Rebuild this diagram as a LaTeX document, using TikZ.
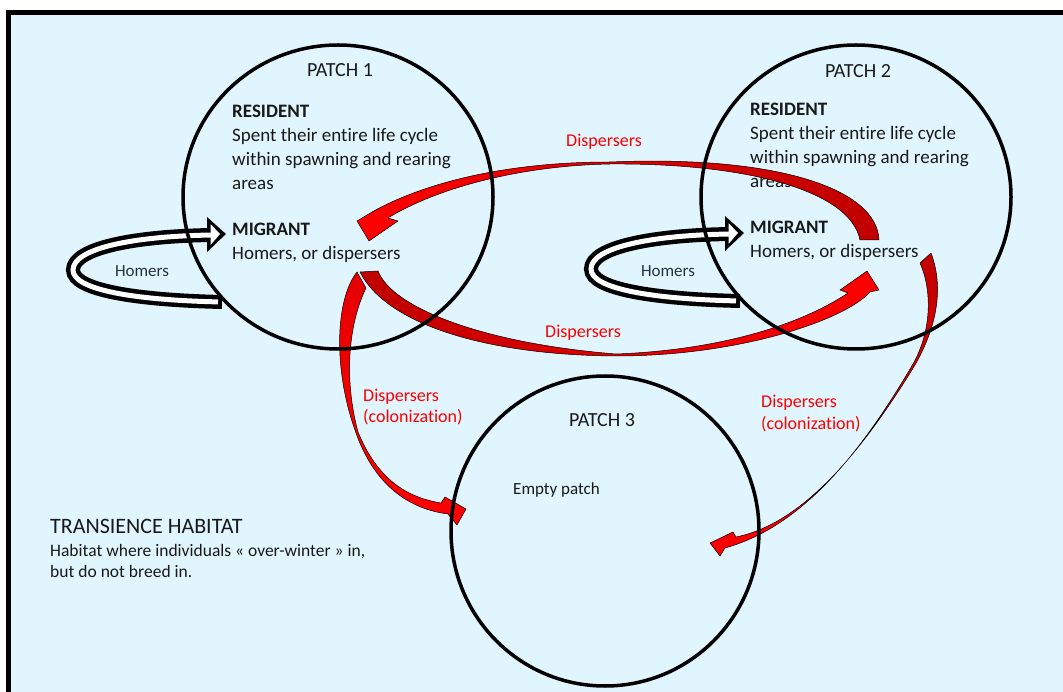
\documentclass[tikz,border=0pt]{standalone}
\usepackage{fontspec}
\setmainfont{Carlito}[Ligatures={NoCommon,NoContextual}]
\definecolor{bg}{RGB}{225,245,254}
\definecolor{dred}{RGB}{192,0,0}
\definecolor{bred}{RGB}{255,0,0}
\definecolor{txt}{RGB}{25,25,25}
\definecolor{homc}{RGB}{40,50,62}
\begin{document}
\begin{tikzpicture}[x=1pt,y=-1pt,
  maintext/.style={anchor=base west, inner sep=0pt, text=txt, font=\fontsize{19}{24}\selectfont},
  headtext/.style={anchor=base, inner sep=0pt, text=txt, font=\fontsize{20}{24}\selectfont},
  redlbl/.style={anchor=base west, inner sep=0pt, text=bred, font=\fontsize{18}{22}\selectfont},
  homlbl/.style={anchor=base, inner sep=0pt, text=homc, font=\fontsize{17}{20}\selectfont},
  smalltext/.style={anchor=base west, inner sep=0pt, text=txt, font=\fontsize{17.5}{21}\selectfont},
  redarrow/.style={draw=black, line width=0.5pt, line join=round},
  patchring/.style={draw=black, line width=3.5pt}
]
\useasboundingbox (0,0) rectangle (1063,692);
\clip (0,0) rectangle (1063,692);
\draw[fill=bg, line width=5pt] (8.5,12.5) rectangle (1080,710);

% ---------- texts ----------
\node[headtext] (p1) at (340,77) {PATCH 1};
\node[headtext] (p2) at (858,78) {PATCH 2};
\node[headtext] (p3) at (602,427) {PATCH 3};

\node[maintext] (r1) at (232,118) {\textbf{RESIDENT}};
\node[maintext] (r1a) at (232,142) {Spent their entire life cycle};
\node[maintext] (r1b) at (232,166) {within spawning and rearing};
\node[maintext] (r1c) at (232,190) {areas};
\node[maintext] (m1) at (232,236) {\textbf{MIGRANT}};
\node[maintext] (m1a) at (232,260) {Homers, or dispersers};

\node[maintext] (r2) at (750,116) {\textbf{RESIDENT}};
\node[maintext] (r2a) at (750,140) {Spent their entire life cycle};
\node[maintext] (r2b) at (750,164) {within spawning and rearing};
\node[maintext] (r2c) at (750,188) {areas};
\node[maintext] (m2) at (750,234) {\textbf{MIGRANT}};
\node[maintext] (m2a) at (750,258) {Homers, or dispersers};

\node[homlbl] (h1) at (142,277) {Homers};
\node[homlbl] (h2) at (668,277) {Homers};

\node[redlbl] (d1) at (566,147) {Dispersers};
\node[redlbl] (d2) at (545,338) {Dispersers};
\node[redlbl] (c1a) at (363,402) {Dispersers};
\node[redlbl] (c1b) at (363,423) {(colonization)};
\node[redlbl] (c2a) at (761,408) {Dispersers};
\node[redlbl] (c2b) at (761,429) {(colonization)};

\node[anchor=base west, inner sep=0pt, text=txt, font=\fontsize{17}{20}\selectfont] (ep) at (513,494) {Empty patch};

\node[anchor=base west, inner sep=0pt, text=txt, font=\fontsize{22}{26}\selectfont] (th) at (50,533) {TRANSIENCE HABITAT};
\node[smalltext] (th1) at (50,556) {Habitat where individuals « over-winter » in,};
\node[smalltext] (th2) at (50,577) {but do not breed in.};

% ---------- homer arrows ----------
\foreach \dx/\dy in {0/0, 518/-1}{
\begin{scope}[shift={(\dx,\dy)}]
  \draw[line width=14pt] (222,302) .. controls (135,300) and (73,290) .. (73,270) .. controls (73,248) and (135,236) .. (213,235);
  \fill (207,217) -- (226,234) -- (207,252) -- cycle;
  \draw[white, line width=5pt, shorten <=4pt] (222,302) .. controls (135,300) and (73,290) .. (73,270) .. controls (73,248) and (135,236) .. (213,235);
  \fill[white] (210.5,224) -- (220,234) -- (210.5,245) -- cycle;
\end{scope}
}

% ---------- red disperser arrows ----------
% left colonization
\path[redarrow, top color=red!90!black, bottom color=bred]
  (357,272) -- (366,288) .. controls (348,325) and (344,380) .. (358,432)
  .. controls (377,478) and (405,497) .. (441,503) -- (445,497) -- (466,509) -- (457,525) -- (448,514)
  .. controls (402,508) and (372,478) .. (356,433) .. controls (333,370) and (335,300) .. (357,272) -- cycle;
% bottom dispersers (patch 1 -> patch 2)
\path[redarrow, left color=dred, middle color=bred, right color=bred]
  (360,272) -- (378,271) .. controls (392,307) and (480,343) .. (616,354)
  .. controls (720,350) and (800,325) .. (848,293) -- (840,290) -- (867,271) -- (879,290) -- (870,292)
  .. controls (845,320) and (740,356) .. (616,356) .. controls (480,355) and (385,322) .. (360,272) -- cycle;
% top dispersers (patch 2 -> patch 1)
\path[redarrow, left color=bred, middle color=bred, right color=dred]
  (879,240) .. controls (877,188) and (775,155) .. (610,162)
  .. controls (500,162) and (420,185) .. (372,212) -- (357,221) -- (369,241) -- (398,221) -- (388,218)
  .. controls (430,192) and (510,166) .. (610,164) .. controls (745,163) and (850,190) .. (860,240) -- cycle;
% right colonization
\path[redarrow, top color=dred, bottom color=bred]
  (920,263) -- (931,253) .. controls (945,290) and (935,330) .. (915,365)
  .. controls (858,458) and (800,524) .. (736,537) -- (733,532) -- (710,543) -- (720,556) -- (725,548)
  .. controls (800,527) and (858,458) .. (913,364) .. controls (932,330) and (932,290) .. (920,263) -- cycle;

% ---------- patches ----------
\draw[patchring] (338,197) ellipse [x radius=155, y radius=152];
\draw[patchring] (856,197) ellipse [x radius=155, y radius=152];
\draw[patchring] (605,531) ellipse [x radius=154, y radius=155];
\end{tikzpicture}
\end{document}
